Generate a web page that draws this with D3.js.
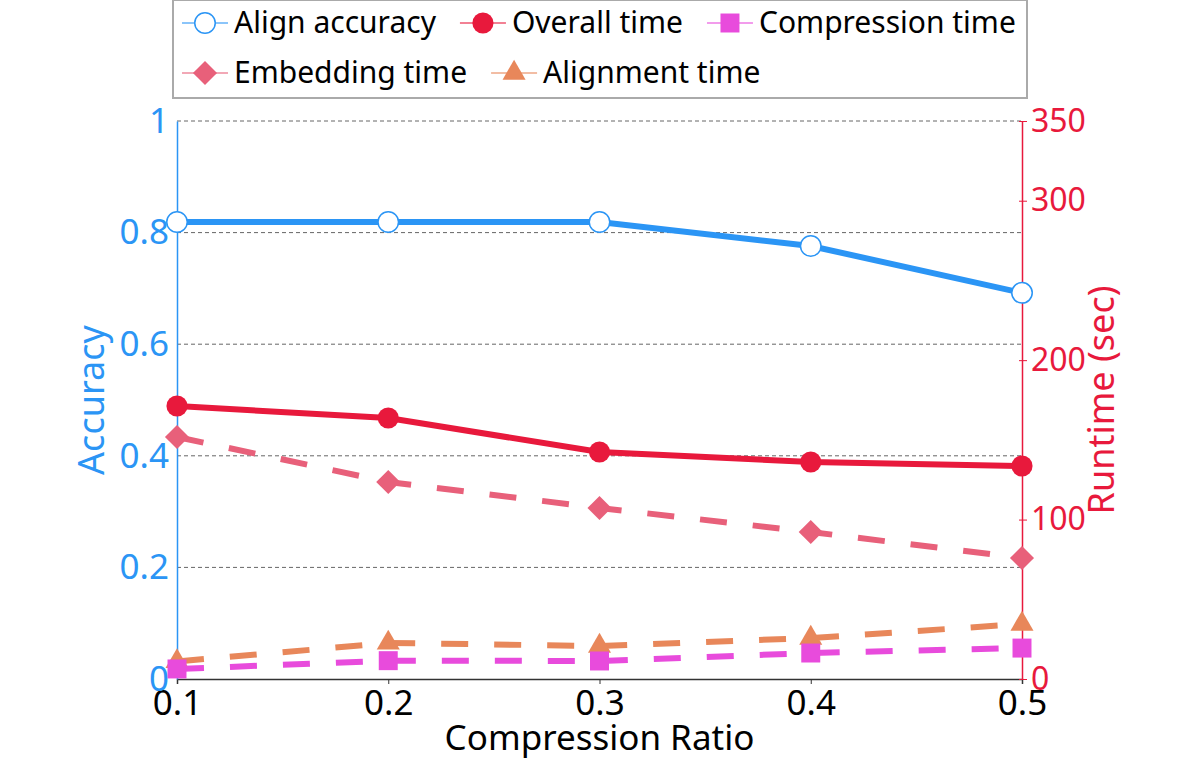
<!DOCTYPE html>
<html>
<head>
<meta charset="utf-8">
<script src="https://cdn.jsdelivr.net/npm/d3@7"></script>
<style>
    body { margin: 0; background: #fff; }
    text { font-family: "Noto Sans", "Open Sans", sans-serif; }
</style>
</head>
<body>
<div id="chart"></div>
<script>
// compression ratio vs accuracy / runtime

var ratios = [0.1, 0.2, 0.3, 0.4, 0.5];
var accuracy = [0.819, 0.819, 0.819, 0.776, 0.692];
var overallTime = [171.2, 163.7, 142.4, 136.1, 133.6];
var embeddingTime = [151.8, 123.6, 107.3, 92.2, 75.9];
var alignmentTime = [11.0, 22.6, 20.7, 25.7, 34.5];
var compressionTime = [6.3, 11.5, 11.3, 16.3, 19.4];

var accTicks = [0, 0.2, 0.4, 0.6, 0.8, 1];
var timeTicks = [0, 100, 200, 300, 350];

var width = 1200,
    height = 760;
var margin = {
    left: 177,
    right: 178,
    top: 121,
    bottom: 81
};

var svg = d3.select("#chart")
    .append("svg")
    .attr("width", width)
    .attr("height", height);

//scales
var xScale = d3.scalePoint()
    .domain(ratios)
    .range([margin.left, width - margin.right]);

var yAcc = d3.scaleLinear()
    .domain([0, 1])
    .range([height - margin.bottom, margin.top]);

var yTime = d3.scaleLinear()
    .domain([0, 350])
    .range([height - margin.bottom, margin.top]);

var blue = "#2b95f5",
    red = "#e8193c";

//grid lines
svg.append("g")
    .selectAll("line")
    .data(accTicks.slice(1))
    .enter()
    .append("line")
    .attr("x1", margin.left)
    .attr("x2", width - margin.right)
    .attr("y1", function (d) { return yAcc(d); })
    .attr("y2", function (d) { return yAcc(d); })
    .attr("stroke", "#666")
    .attr("stroke-width", 1)
    .attr("stroke-dasharray", "4,3");

//axes
var xAxis = svg.append("g")
    .attr("transform", "translate(0," + (height - margin.bottom) + ")")
    .call(d3.axisBottom(xScale).tickSizeOuter(0).tickSize(5).tickPadding(6)
        .tickFormat(d3.format(".1f")));
xAxis.select(".domain").attr("stroke", "#333").attr("stroke-width", 1.5);
xAxis.selectAll(".tick line").attr("stroke", "#333");
xAxis.selectAll("text").attr("font-size", 35).attr("fill", "#000");

var leftAxis = svg.append("g")
    .attr("transform", "translate(" + margin.left + ",0)")
    .call(d3.axisLeft(yAcc).tickValues(accTicks).tickSize(0).tickSizeOuter(0).tickPadding(8)
        .tickFormat(function (d) { return d3.format("")(d); }));
leftAxis.select(".domain").attr("stroke", blue).attr("stroke-width", 1.5);
leftAxis.selectAll("text").attr("font-size", 35).attr("fill", blue);

var rightAxis = svg.append("g")
    .attr("transform", "translate(" + (width - margin.right) + ",0)")
    .call(d3.axisRight(yTime).tickValues(timeTicks).tickSize(5).tickSizeOuter(0).tickPadding(4));
rightAxis.select(".domain").attr("stroke", red).attr("stroke-width", 1.5);
rightAxis.selectAll(".tick line").attr("stroke", red).attr("x1", -3);
rightAxis.selectAll("text").attr("font-size", 32).attr("fill", red);

//axis titles
svg.append("text")
    .attr("x", (margin.left + width - margin.right) / 2)
    .attr("y", 750)
    .attr("text-anchor", "middle")
    .attr("font-size", 35)
    .text("Compression Ratio");

svg.append("text")
    .attr("transform", "translate(104,400) rotate(-90)")
    .attr("text-anchor", "middle")
    .attr("font-size", 36)
    .attr("fill", blue)
    .text("Accuracy");

svg.append("text")
    .attr("transform", "translate(1114,400) rotate(-90)")
    .attr("text-anchor", "middle")
    .attr("font-size", 36)
    .attr("fill", red)
    .text("Runtime (sec)");

//series definitions
var series = [
    { name: "Align accuracy", values: accuracy, scale: yAcc, color: blue, dash: null, marker: "circleOpen" },
    { name: "Overall time", values: overallTime, scale: yTime, color: red, dash: null, marker: "circle" },
    { name: "Compression time", values: compressionTime, scale: yTime, color: "#e84bdc", dash: "27,26", marker: "square" },
    { name: "Embedding time", values: embeddingTime, scale: yTime, color: "#e8607a", dash: "27,26", marker: "diamond" },
    { name: "Alignment time", values: alignmentTime, scale: yTime, color: "#e8875a", dash: "27,26", marker: "triangle" }
];

var symbols = {
    circleOpen: d3.symbol().type(d3.symbolCircle).size(330),
    circle: d3.symbol().type(d3.symbolCircle).size(350),
    square: d3.symbol().type(d3.symbolSquare).size(360),
    diamond: d3.symbol().type(d3.symbolSquare).size(290),
    triangle: d3.symbol().type(d3.symbolTriangle).size(230)
};

function drawMarker(g, s) {
    g.attr("d", symbols[s.marker]())
        .attr("fill", s.marker == "circleOpen" ? "#fff" : s.color)
        .attr("stroke", s.marker == "circleOpen" ? s.color : "none")
        .attr("stroke-width", 1.5);
}

function markerTransform(s, x, y) {
    return "translate(" + x + "," + y + ")" + (s.marker == "diamond" ? " rotate(45)" : "");
}

//draw order: dashed lines first
var drawOrder = [3, 4, 2, 1, 0];
drawOrder.forEach(function (i) {
    var s = series[i];
    var line = d3.line()
        .x(function (d, j) { return xScale(ratios[j]); })
        .y(function (d) { return s.scale(d); });

    svg.append("path")
        .attr("d", line(s.values))
        .attr("fill", "none")
        .attr("stroke", s.color)
        .attr("stroke-width", 6)
        .attr("stroke-dasharray", s.dash);

    svg.append("g")
        .selectAll("path")
        .data(s.values)
        .enter()
        .append("path")
        .attr("transform", function (d, j) {
            return markerTransform(s, xScale(ratios[j]), s.scale(d));
        })
        .each(function () { drawMarker(d3.select(this), s); });
});

//legend
var legend = svg.append("g");
legend.append("rect")
    .attr("x", 173)
    .attr("y", 0)
    .attr("width", 854)
    .attr("height", 98)
    .attr("fill", "#fff")
    .attr("stroke", "#aaa")
    .attr("stroke-width", 2);

var rows = [[0, 1, 2], [3, 4]];
rows.forEach(function (row, r) {
    var x = 182;
    var y = 23 + r * 50;
    row.forEach(function (i) {
        var s = series[i];
        var item = legend.append("g").attr("transform", "translate(" + x + "," + y + ")");
        item.append("line")
            .attr("x1", 0)
            .attr("x2", 46)
            .attr("stroke", s.color)
            .attr("stroke-opacity", 0.55)
            .attr("stroke-width", 2);
        var m = item.append("path").attr("transform", markerTransform(s, 23, 0));
        drawMarker(m, s);
        var t = item.append("text")
            .attr("x", 52)
            .attr("y", 10)
            .attr("font-size", 30)
            .text(s.name);
        x += 52 + t.node().getComputedTextLength() + 24;
    });
});
</script>
</body>
</html>
